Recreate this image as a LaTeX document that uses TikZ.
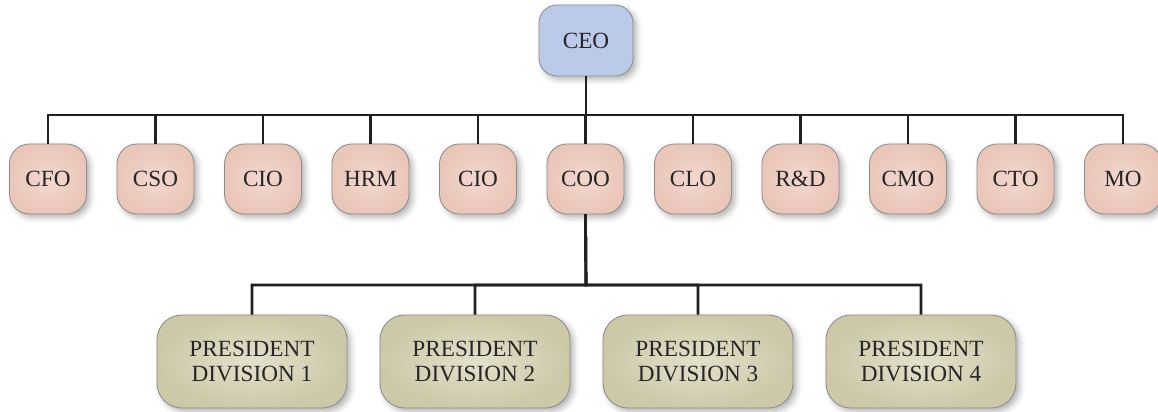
\documentclass[tikz,border=0pt]{standalone}
\usepackage{fontspec}
\setmainfont{Liberation Serif}
\usepackage{xcolor}
\usepackage{tikz}
\usetikzlibrary{shadows.blur}
\definecolor{ceoblue}{RGB}{188,202,234}
\definecolor{pinkin}{RGB}{243,216,206}
\definecolor{pinkout}{RGB}{234,198,185}
\definecolor{olivein}{RGB}{228,225,203}
\definecolor{oliveout}{RGB}{204,200,168}
\definecolor{boxline}{RGB}{140,140,140}
\definecolor{wirecol}{RGB}{32,32,32}

\begin{document}
\begin{tikzpicture}[
  x=0.025cm, y=-0.025cm,
  font=\fontsize{16.5}{18}\selectfont,
  box/.style={draw=boxline, line width=0.6pt, inner sep=0pt, align=center, text=black!85,
    blur shadow={shadow xshift=2.5pt, shadow yshift=-2.5pt, shadow blur radius=4pt, shadow opacity=30}},
  chief/.style={box, fill=ceoblue, minimum width=2.35cm, minimum height=1.775cm, rounded corners=0.45cm},
  officer/.style={box, inner color=pinkin, outer color=pinkout, minimum width=1.925cm, minimum height=1.75cm, rounded corners=0.5cm},
  division/.style={box, inner color=olivein, outer color=oliveout, minimum width=4.75cm, minimum height=2.325cm, rounded corners=0.62cm},
  wire/.style={line width=1.9pt, draw=wirecol}
]
\useasboundingbox (0,0) rectangle (1158,412);

\node[chief] (ceo) at (586,40.5) {CEO};
\foreach \lbl [count=\i from 0] in {CFO,CSO,CIO,HRM,CIO,COO,CLO,{R\&D},CMO,CTO,MO} {
  \node[officer] (o\i) at (48+107.5*\i,179) {\lbl};
}
\foreach \k in {1,...,4} {
  \node[division] (d\k) at (29+223*\k,361.5) {PRESIDENT\\DIVISION \k};
}

\coordinate (bus1) at (586,115);
\coordinate (bus2) at (586,285);
\foreach \i in {0,...,10} \draw[wire] (ceo.south) -- (bus1) -| (o\i.north);
\foreach \k in {1,...,4} \draw[wire] (o5.south) -- (bus2) -| (d\k.north);
\end{tikzpicture}
\end{document}
